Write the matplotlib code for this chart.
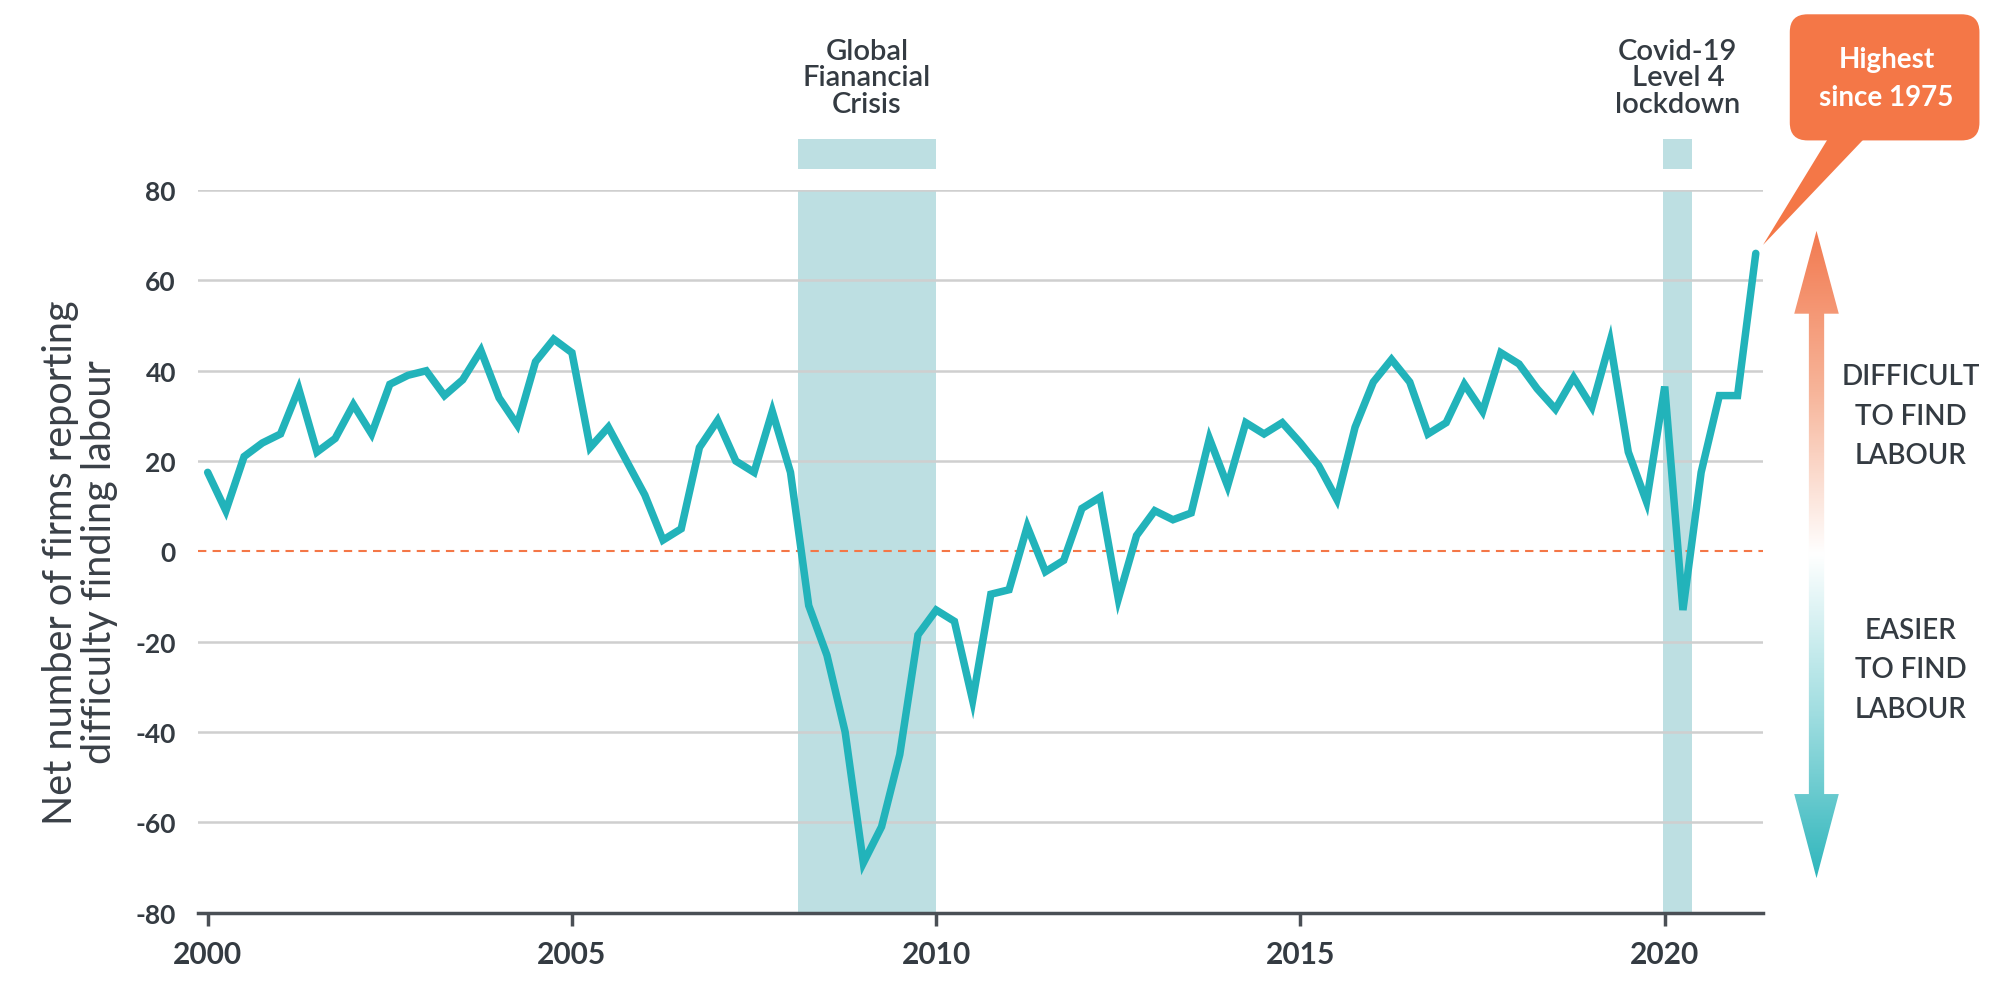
import numpy as np
import matplotlib.pyplot as plt
from matplotlib.patches import Rectangle, Polygon, FancyBboxPatch
from matplotlib.colors import LinearSegmentedColormap

# quarterly survey, 2000 Q1 .. 2021 Q2
start_year = 2000
values = [17.5, 9, 21, 24, 26, 36, 22, 25, 32.5, 26, 37, 39, 40, 34.5, 38, 44.5,
          34, 28, 42, 47, 44, 23, 27.5, 20, 12.5, 2.5, 5, 23, 29, 20, 17.5, 31,
          17.5, -12, -23, -40, -69, -61, -45, -18.5, -13, -15.5, -33, -9.5, -8.5, 5.5,
          -4.5, -2, 9.5, 12, -10.5, 3.5, 9, 7, 8.5, 25, 14.5, 28.5, 26, 28.5, 24, 19,
          11.5, 27.5, 37.5, 42.5, 37.5, 26, 28.5, 37, 31, 44, 41.5, 36, 31.5, 38.5, 32, 46.5,
          22, 11, 36.5, -13, 17.5, 34.5, 34.5, 66]
years = start_year + np.arange(len(values)) / 4

events = ["Global\nFianancial\nCrisis", "Covid-19\nLevel 4\nlockdown"]
event_start = [2008.1, 2019.98]
event_end = [2010.0, 2020.38]

yticks = [-80, -60, -40, -20, 0, 20, 40, 60, 80]
xticks = [2000, 2005, 2010, 2015, 2020]

teal = '#22b3ba'
shade = '#bddfe2'
orange = '#f47747'
dark = '#343b42'
grid = '#cfcfcf'

plt.rcParams['font.family'] = ['Lato', 'DejaVu Sans']
plt.rcParams['axes.unicode_minus'] = False

fig = plt.figure(figsize=(19.96, 10.04), dpi=100)
ax = fig.add_axes([0.0993, 0.0901, 0.7840, 0.7195])

for y in yticks:
    if y in (-80, 0):
        continue
    ax.axhline(y, color=grid, lw=1.8, zorder=1)
ax.axhline(0, color=orange, lw=1.5, ls=(0, (4, 3)), zorder=2)

for name, s, e in zip(events, event_start, event_end):
    ax.axvspan(s, e, color=shade, lw=0, zorder=0)
    ax.add_patch(Rectangle((s, 84.6), e - s, 6.8, color=shade, lw=0, clip_on=False))
    ax.text((s + e) / 2, 105, name, ha='center', va='center', fontsize=21,
            color=dark, fontweight='semibold', linespacing=1.03, clip_on=False)

ax.plot(years, values, color=teal, lw=5.4, solid_capstyle='round',
        solid_joinstyle='miter', zorder=3)

ax.set_xlim(1999.87, 2021.35)
ax.set_ylim(-80, 80)
ax.set_xticks(xticks)
ax.set_yticks(yticks)
for sp in ['left', 'right', 'top']:
    ax.spines[sp].set_visible(False)
ax.spines['bottom'].set_color('#4a4f55')
ax.spines['bottom'].set_linewidth(2.5)
ax.tick_params(axis='y', length=0, pad=16, labelsize=19, labelcolor=dark)
ax.tick_params(axis='x', length=9, width=2.5, color='#4a4f55', pad=11,
               labelsize=21.5, labelcolor=dark)
for lab in ax.get_xticklabels() + ax.get_yticklabels():
    lab.set_fontweight('bold')

fig.text(0.040, 0.44, "Net number of firms reporting\ndifficulty finding labour",
         rotation=90, ha='center', va='center', fontsize=28.5, color='#3a4047',
         linespacing=1.05)

# overlay in page units for annotations
W, H = 1568, 788
ov = fig.add_axes([0, 0, 1, 1], zorder=5)
ov.set_xlim(0, W)
ov.set_ylim(H, 0)
ov.axis('off')
ov.patch.set_alpha(0)

# callout
ov.add_patch(FancyBboxPatch((1406, 12), 149, 99, boxstyle='round,pad=0,rounding_size=14',
                            fc=orange, ec='none'))
ov.add_patch(Polygon([(1437, 108), (1466, 108), (1385, 193)], closed=True,
                     fc=orange, ec='none'))
ov.text(1482, 62, "Highest\nsince 1975", ha='center', va='center', fontsize=20,
        color='white', fontweight='bold', linespacing=1.6)

# gradient double arrow
cx = 1427
hw, sw = 17.5, 6
top, hb1, hb2, bot = 182, 247, 624, 690
arrow = Polygon([(cx, top), (cx + hw, hb1), (cx + sw, hb1), (cx + sw, hb2), (cx + hw, hb2),
                 (cx, bot), (cx - hw, hb2), (cx - sw, hb2), (cx - sw, hb1), (cx - hw, hb1)],
                closed=True, fc='none', ec='none')
ov.add_patch(arrow)
cmap = LinearSegmentedColormap.from_list('grad', ['#f27a50', '#f7b59a', '#ffffff', '#9fdde0', '#2fb6bc'])
grad = np.linspace(0, 1, 256).reshape(-1, 1)
im = ov.imshow(grad, cmap=cmap, aspect='auto', extent=(cx - hw, cx + hw, bot, top),
               origin='upper', zorder=4)
im.set_clip_path(arrow)

ov.text(1501, 327, "DIFFICULT\nTO FIND\nLABOUR", ha='center', va='center', fontsize=20,
        color=dark, fontweight='semibold', linespacing=1.65)
ov.text(1501, 526, "EASIER\nTO FIND\nLABOUR", ha='center', va='center', fontsize=20,
        color=dark, fontweight='semibold', linespacing=1.65)

fig.savefig('out.png', dpi=100)
